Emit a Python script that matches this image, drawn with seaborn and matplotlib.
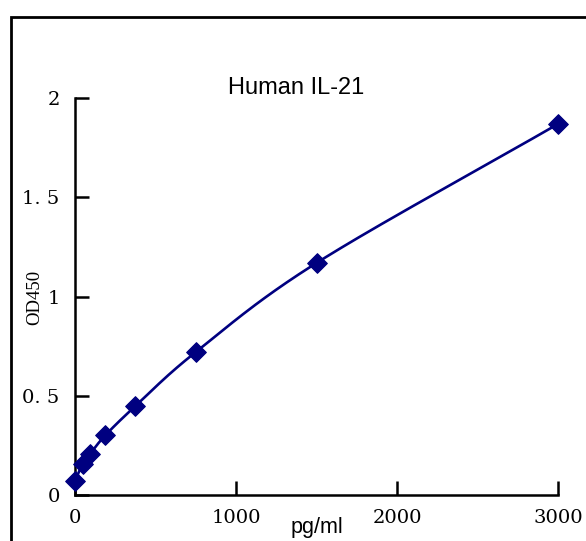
import numpy as np
import matplotlib
matplotlib.use("Agg")
import matplotlib.pyplot as plt
import seaborn as sns
from matplotlib.patches import Rectangle

conc = [0, 46.875, 93.75, 187.5, 375, 750, 1500, 3000]
od = [0.07, 0.156, 0.207, 0.30, 0.448, 0.72, 1.169, 1.869]
xticks = [0, 1000, 2000, 3000]
xticklabels = ["0", "1000", "2000", "3000"]
yticks = [0, 0.5, 1, 1.5, 2]
yticklabels = ["0", "0. 5", "1", "1. 5", "2"]
title = "Human IL-21"
xlabel = "pg/ml"
ylabel = "OD450"

sns.set_style("white")
plt.rcParams['font.family'] = ['DejaVu Serif']
plt.rcParams['text.color'] = 'black'

fig = plt.figure(figsize=(5.86, 5.41), dpi=100)
ax = fig.add_axes([75/586, 46/541, 483/586, 397/541])

# smooth Catmull-Rom curve through the points (Excel-like smoothed line), in normalized space
xs = np.array(conc) / 3000.0
ys = np.array(od) / 2.0
P = np.column_stack([xs, ys])
Pe = np.vstack([2*P[0]-P[1], P, 2*P[-1]-P[-2]])
curve = []
for i in range(1, len(Pe)-2):
    p0, p1, p2, p3 = Pe[i-1], Pe[i], Pe[i+1], Pe[i+2]
    t = np.linspace(0, 1, 40)[:, None]
    c = 0.5*((2*p1) + (-p0+p2)*t + (2*p0-5*p1+4*p2-p3)*t**2 + (-p0+3*p1-3*p2+p3)*t**3)
    curve.append(c)
curve = np.vstack(curve)
sns.lineplot(x=curve[:, 0]*3000, y=curve[:, 1]*2, ax=ax, color="#000080", lw=1.9,
             sort=False, estimator=None)
sns.scatterplot(x=conc, y=od, ax=ax, marker="D", s=100, color="#000080",
                edgecolor="#000080", zorder=5, clip_on=False)

ax.set_xlim(0, 3000)
ax.set_ylim(0, 2)
ax.set_xticks(xticks)
ax.set_xticklabels(xticklabels)
ax.set_yticks(yticks)
ax.set_yticklabels(yticklabels)
for s in ["top", "right"]:
    ax.spines[s].set_visible(False)
for s in ["left", "bottom"]:
    ax.spines[s].set_color("black")
    ax.spines[s].set_linewidth(1.8)
ax.tick_params(axis="both", direction="in", length=10, width=1.8, colors="black",
               labelsize=14, left=True, bottom=True, labelcolor="black")
ax.tick_params(axis="y", pad=11)
ax.tick_params(axis="x", pad=10)
ax.grid(False)

fig.text(35/586, 1-297/541, ylabel, ha="center", va="center", rotation=90,
         fontsize=13.5, family="Liberation Serif", color="black")
fig.text(317/586, 1-528/541, xlabel, ha="center", va="center", fontsize=15.5,
         family="Liberation Sans", color="black")
fig.text(296/586, 1-88/541, title, ha="center", va="center", fontsize=17,
         family="Liberation Sans", color="black")

# outer frame
fig.patches.append(Rectangle((11/586, -0.1), 1.2, 1-17/541+0.1, transform=fig.transFigure,
                             fill=False, edgecolor="black", linewidth=2, figure=fig))

fig.savefig("out.png", dpi=100)
